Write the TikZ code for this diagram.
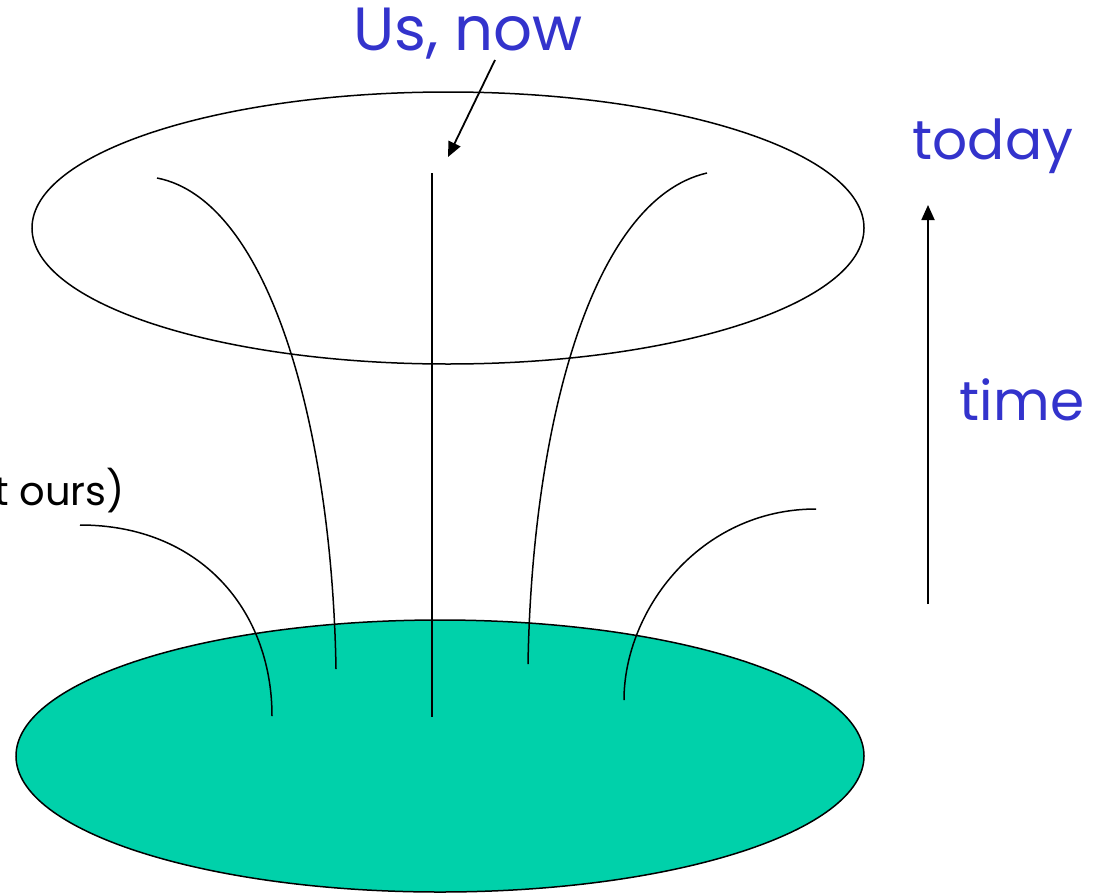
\documentclass[tikz,border=0pt]{standalone}
\usepackage{fontspec}
\setmainfont{Poppins}
\usetikzlibrary{arrows.meta}
\definecolor{teal1}{RGB}{0,209,170}
\definecolor{lblue}{RGB}{51,51,204}
\tikzset{
  thin line/.style={line width=1.5pt, black},
  arr/.style={line width=1.8pt, -{Triangle[length=15pt,width=13pt]}},
  bluelabel/.style={text=lblue, font=\fontsize{55}{60}\selectfont, inner sep=0pt},
}
\begin{document}
\begin{tikzpicture}[x=1pt,y=-1pt]
\useasboundingbox (0,0) rectangle (1094,894);
% bottom filled ellipse
\draw[thin line, fill=teal1] (440,756) ellipse [x radius=424, y radius=136];
% top ellipse
\draw[thin line] (448,228) ellipse [x radius=416, y radius=136];
% coordinates
\coordinate (c1) at (157,178); \coordinate (c1e) at (336,669);
\coordinate (c2) at (707,173); \coordinate (c2e) at (528,664);
\coordinate (c3) at (80,525);  \coordinate (c3e) at (272,716);
\coordinate (c4) at (816,509); \coordinate (c4e) at (624,700);
\coordinate (m1) at (432,173); \coordinate (m1e) at (432,717);
\draw[thin line] (m1) -- (m1e);
\draw[thin line] (c1) .. controls (270,200) and (332,430) .. (c1e);
\draw[thin line] (c2) .. controls (590,200) and (532,430) .. (c2e);
\draw[thin line] (c3) .. controls (200,525) and (272,610) .. (c3e);
\draw[thin line] (c4) .. controls (700,509) and (624,610) .. (c4e);
% labels
\node[bluelabel, font=\fontsize{61}{66}\selectfont] (us) at (468,34) {Us, now};
\node[bluelabel] (today) at (993,146) {today};
\node[bluelabel] (time) at (1022,400) {time};
\node[inner sep=0pt, anchor=west, font=\fontsize{40}{46}\selectfont] (ours) at (-6,491) {t ours)};
% arrows
\coordinate (ua) at (495,60); \coordinate (ub) at (448,157);
\draw[arr] (ua) -- (ub);
\coordinate (ta) at (928,604); \coordinate (tb) at (928,205);
\draw[arr] (ta) -- (tb);
\end{tikzpicture}
\end{document}
